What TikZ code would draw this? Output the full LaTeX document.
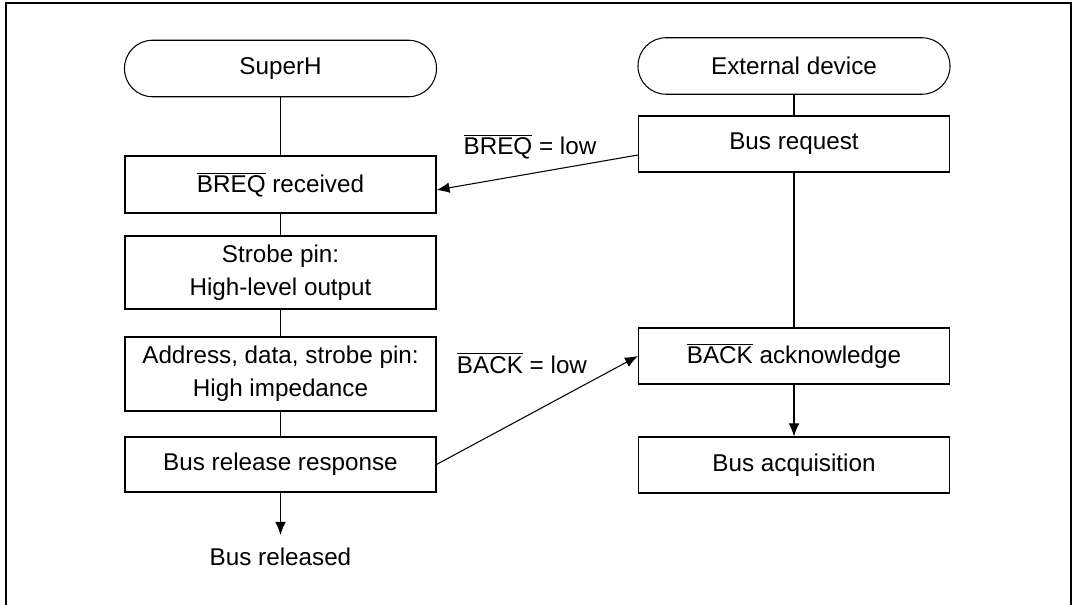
\documentclass[tikz,border=0pt]{standalone}
\usepackage{fontspec}
\setmainfont{Liberation Sans}
\usetikzlibrary{arrows.meta, positioning, calc}
\newcommand{\sigbar}[1]{$\overline{\mbox{#1}}$}

\begin{document}
\begin{tikzpicture}[every node/.style={font=\fontsize{13.8}{19}\selectfont, align=center},
		stepbox/.style={draw, line width=0.6pt, minimum width=6.22cm, inner sep=0pt},
		termbox/.style={draw, line width=0.6pt, minimum width=6.24cm, minimum height=1.13cm, rounded corners=0.56cm, inner sep=0pt},
		link/.style={line width=0.6pt},
		flow/.style={line width=0.6pt, -{Latex[length=0.26cm, width=0.21cm]}}]
				\useasboundingbox (0,0) rectangle (21.5,12.1);
				% Outer frame
				\draw[line width=1.1pt] (0.12,0) -- (0.12,12.04) -- (21.42,12.04) -- (21.42,0);
				% SuperH column
				\node[termbox] (sh) at (5.61,10.73) {SuperH};
				\node[stepbox, minimum height=1.14cm] (rcv) at (5.61,8.41) {\sigbar{BREQ} received};
				\node[stepbox, minimum height=1.46cm] (strobe) at (5.61,6.65) {Strobe pin:\\High-level output};
				\node[stepbox, minimum height=1.48cm] (hiz) at (5.61,4.62) {Address, data, strobe pin:\\High impedance};
				\node[stepbox, minimum height=1.10cm] (rel) at (5.61,2.81) {Bus release response};
				\node (done) at (5.61,0.96) {Bus released};
				\draw[link] (sh) -- (rcv);
				\draw[link] (rcv) -- (strobe);
				\draw[link] (strobe) -- (hiz);
				\draw[link] (hiz) -- (rel);
				\draw[flow] (rel) -- (5.61,1.40);
				% External device column
				\node[termbox] (ext) at (15.88,10.78) {External device};
				\node[stepbox, minimum height=1.12cm] (req) at (15.88,9.22) {Bus request};
				\node[stepbox, minimum height=1.12cm] (ack) at (15.88,4.98) {\sigbar{BACK} acknowledge};
				\node[stepbox, minimum height=1.12cm] (acq) at (15.88,2.80) {Bus acquisition};
				\draw[link] (ext) -- (req);
				\draw[link] (req) -- (ack);
				\draw[flow] (ack) -- (acq);
				% Handshake signals
				\draw[flow] ([yshift=-0.22cm]req.west) -- ([yshift=-0.11cm]rcv.east);
				\node (breq) at (10.6,9.16) {\sigbar{BREQ} = low};
				\draw[flow] (rel.east) -- (ack.west);
				\node (back) at (10.44,4.84) {\sigbar{BACK} = low};
			\end{tikzpicture}
\end{document}
